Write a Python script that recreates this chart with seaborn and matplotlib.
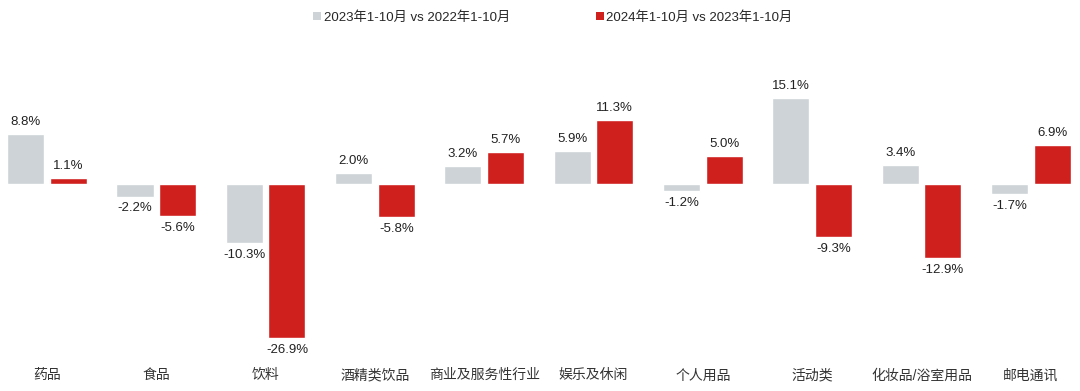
import pandas as pd
import matplotlib.pyplot as plt
import seaborn as sns
from matplotlib.patches import Patch

categories = ["药品", "食品", "饮料", "酒精类饮品", "商业及服务性行业", "娱乐及休闲",
              "个人用品", "活动类", "化妆品/浴室用品", "邮电通讯"]
series_names = ["2023年1-10月 vs 2022年1-10月", "2024年1-10月 vs 2023年1-10月"]
growth_2023 = [8.8, -2.2, -10.3, 2.0, 3.2, 5.9, -1.2, 15.1, 3.4, -1.7]
growth_2024 = [1.1, -5.6, -26.9, -5.8, 5.7, 11.3, 5.0, -9.3, -12.9, 6.9]
colors = ["#CDD3D6", "#D0201E"]

sns.set_style("white")
plt.rcParams["font.family"] = ["Liberation Sans", "Noto Sans CJK SC", "DejaVu Sans"]


def build_data():
    rows = []
    for name, vals in zip(series_names, [growth_2023, growth_2024]):
        for cat, v in zip(categories, vals):
            rows.append({"category": cat, "series": name, "value": v})
    return pd.DataFrame(rows)


def draw_chart():
    data = build_data()

    fig = plt.figure(figsize=(10.8, 3.91), dpi=100)
    ax = fig.add_axes([0.0, 0.074, 1.0, 0.772])

    sns.barplot(data=data, x="category", y="value", hue="series", order=categories,
                hue_order=series_names, palette=colors, saturation=1, width=0.78, gap=0.13,
                errorbar=None, legend=False, ax=ax)

    for container in ax.containers:
        ax.bar_label(container, labels=[f"{b.get_height():.1f}%" for b in container],
                     padding=4, fontsize=9.5, color="#222222")

    ax.set_xlim(-0.43, 9.45)
    ax.set_ylim(-31.1, 21.7)
    ax.set_xlabel("")
    ax.set_ylabel("")
    ax.set_yticks([])
    ax.tick_params(axis="x", length=0, pad=4.5, labelsize=10, labelcolor="#333333")
    sns.despine(ax=ax, left=True, bottom=True)

    handles = [Patch(facecolor=c, edgecolor="none") for c in colors]
    fig.legend(handles, series_names, loc="center", bbox_to_anchor=(0.512, 0.955), ncol=2,
               frameon=False, fontsize=9.5, handlelength=0.6, handleheight=0.6,
               handletextpad=0.2, columnspacing=6.5)

    fig.savefig("out.png", dpi=100)


if __name__ == "__main__":
    draw_chart()
